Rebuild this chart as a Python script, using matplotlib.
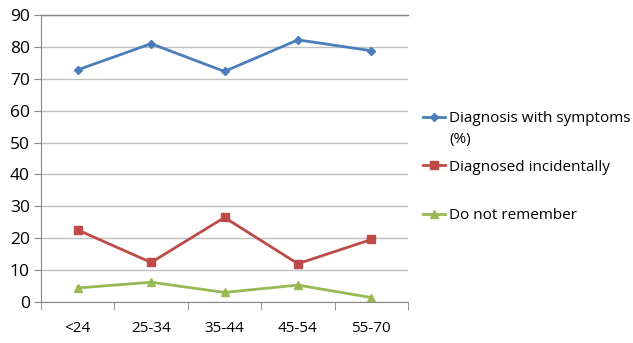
import matplotlib.pyplot as plt
import numpy as np

categories = ['<24', '25-34', '35-44', '45-54', '55-70']
symptoms = [72.8, 81.0, 72.3, 82.2, 78.8]
incidental = [22.6, 12.4, 26.5, 12.0, 19.6]
not_remember = [4.4, 6.2, 3.0, 5.3, 1.4]

plt.rcParams['font.family'] = ['Open Sans', 'DejaVu Sans']

fig = plt.figure(figsize=(6.33, 3.43), dpi=100)
ax = fig.add_axes([41/633, 1 - 302/343, 367/633, 287/343])

x = np.arange(len(categories))
ax.plot(x, symptoms, color='#4A7EBB', lw=2, marker='D', ms=4,
        label='Diagnosis with symptoms')
ax.plot(x, incidental, color='#BE4B48', lw=2, marker='s', ms=6,
        label='Diagnosed incidentally')
ax.plot(x, not_remember, color='#98B954', lw=2, marker='^', ms=6,
        label='Do not remember')

ax.set_xlim(-0.5, len(categories) - 0.5)
ax.set_ylim(0, 90)
ax.set_yticks(range(0, 91, 10))
ax.set_xticks(x)
ax.set_xticklabels(categories)
ax.set_xticks(np.arange(-0.5, len(categories)), minor=True)
ax.tick_params(axis='x', which='major', length=0, pad=14, labelsize=11)
ax.tick_params(axis='x', which='minor', length=6, color='#868686')
ax.tick_params(axis='y', length=5, color='#868686', labelsize=12.5, pad=3)
ax.grid(axis='y', color='#C0C0C0', lw=1)
ax.set_axisbelow(True)
for s in ['top', 'right']:
    ax.spines[s].set_visible(False)
for s in ['left', 'bottom']:
    ax.spines[s].set_color('#868686')
ax.axhline(90, color='#868686', lw=1, clip_on=False)

leg = ax.legend(loc='center left', bbox_to_anchor=(1.025, 0.47), frameon=False,
                fontsize=11, handlelength=1.4, handletextpad=0.3,
                labelspacing=2.2, borderaxespad=0)

# second line of the first legend label, placed under it
fig.canvas.draw()
bb = leg.get_texts()[0].get_window_extent()
fig.text(bb.x0 / fig.bbox.width, (bb.y0 - 6) / fig.bbox.height, '(%)',
         fontsize=11, va='top', ha='left')

fig.savefig('out.png', dpi=100)
